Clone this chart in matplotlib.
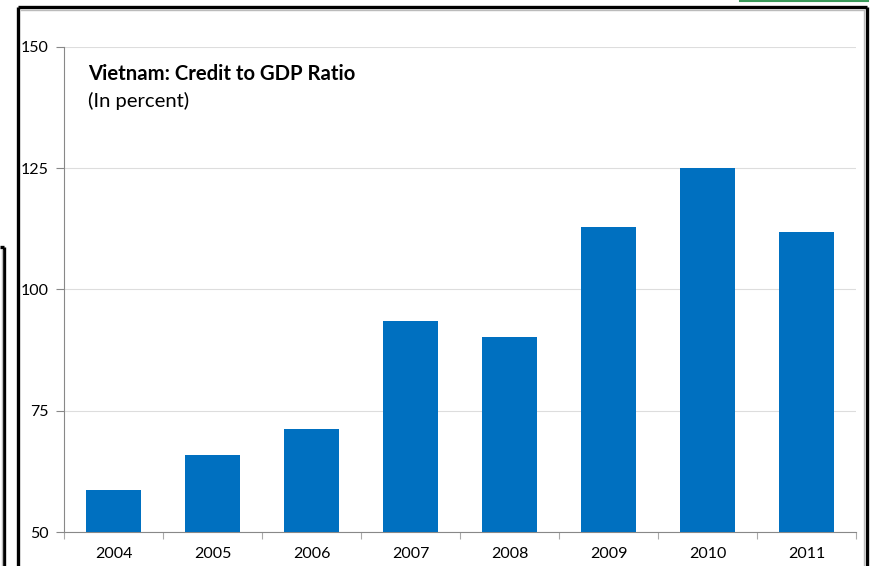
import matplotlib.pyplot as plt
from matplotlib.lines import Line2D
import numpy as np

years = ['2004', '2005', '2006', '2007', '2008', '2009', '2010', '2011']
credit_to_gdp = [58.7, 65.9, 71.2, 93.5, 90.2, 112.9, 125.0, 111.9]
y_ticks = [50, 75, 100, 125, 150]

W, H = 871, 566
plt.rcParams['font.family'] = ['Lato', 'DejaVu Sans']

fig = plt.figure(figsize=(W / 100, H / 100), dpi=100)


def fx(px):
    return px / W


def fy(py):
    return 1 - py / H


ax = fig.add_axes([fx(64), fy(532), fx(856) - fx(64), fy(47) - fy(532)])
x = np.arange(len(years))
ax.bar(x, credit_to_gdp, width=0.55, bottom=0, color='#0070c0', zorder=3)
ax.set_xlim(-0.5, len(years) - 0.5)
ax.set_ylim(50, 150)
ax.set_yticks(y_ticks)
ax.set_yticklabels([str(v) for v in y_ticks], fontsize=11.5)
ax.set_xticks(x)
ax.set_xticklabels(years, fontsize=11.5)
ax.tick_params(axis='x', length=0, pad=11)
ax.tick_params(axis='y', length=6, width=0.8, color='#888888', pad=5)
ax.set_xticks(np.arange(-0.5, len(years)), minor=True)
ax.tick_params(axis='x', which='minor', length=5, width=0.8, color='#aaaaaa', direction='out')
ax.grid(axis='y', color='#dddddd', linewidth=0.8, zorder=0)
for side in ['top', 'right']:
    ax.spines[side].set_visible(False)
for side in ['left', 'bottom']:
    ax.spines[side].set_color('#888888')
    ax.spines[side].set_linewidth(0.8)

ax.text(0.030, 0.944, 'Vietnam: Credit to GDP Ratio', transform=ax.transAxes,
        fontsize=14.6, fontweight='bold', va='center', ha='left')
ax.text(0.030, 0.889, '(In percent)', transform=ax.transAxes,
        fontsize=14.6, va='center', ha='left')

# outer frame around the chart
frame_kw = dict(transform=fig.transFigure, color='black', linewidth=2.4,
                solid_capstyle='butt')
fig.add_artist(Line2D([fx(18), fx(867)], [fy(7), fy(7)], **frame_kw))
fig.add_artist(Line2D([fx(18), fx(18)], [fy(7), fy(570)], **frame_kw))
fig.add_artist(Line2D([fx(867), fx(867)], [fy(7), fy(570)], **frame_kw))
shade_kw = dict(transform=fig.transFigure, color='#bbbbbb', linewidth=1.0)
fig.add_artist(Line2D([fx(21), fx(864)], [fy(10), fy(10)], **shade_kw))
fig.add_artist(Line2D([fx(864), fx(864)], [fy(10), fy(570)], **shade_kw))

# partial frame on the left edge
fig.add_artist(Line2D([fx(0), fx(4)], [fy(247), fy(247)], **frame_kw))
fig.add_artist(Line2D([fx(4), fx(4)], [fy(247), fy(570)], **frame_kw))
fig.add_artist(Line2D([fx(1.5), fx(1.5)], [fy(250), fy(570)], **shade_kw))

# green edge at the top right
fig.add_artist(Line2D([fx(740), fx(868)], [fy(0.5), fy(0.5)],
                      transform=fig.transFigure, color='#3a9a5a', linewidth=1.5))

fig.savefig('out.png', dpi=100)
